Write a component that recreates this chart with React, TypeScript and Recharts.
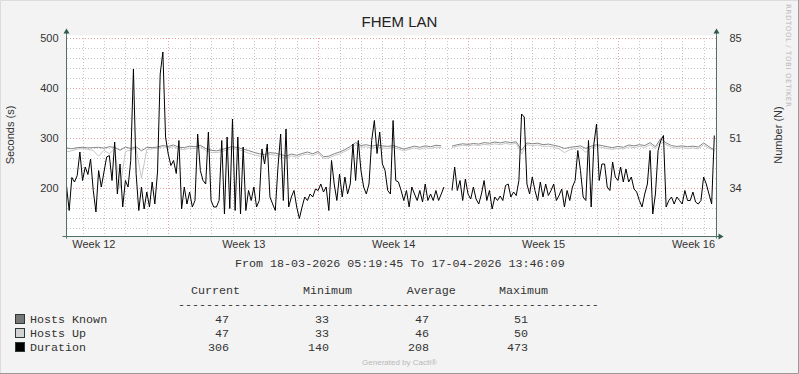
import { ComposedChart, Line, XAxis, YAxis, ReferenceLine, ReferenceArea, ReferenceDot } from "recharts";

// time axis: hours since 18-03-2026 05:19:45
const SPAN_HOURS = 728.44;
const DURATION_STEP = 3;
const HOSTS_STEP = 6;

// Duration (seconds), one value every 3 hours
const durationValues: (number | null)[] = [
  205, 156, 222, 213, 226, 273, 216, 243, 228, 259,
  196, 153, 236, 203, 233, 263, 266, 216, 293, 189,
  249, 163, 216, 203, 256, 439, 230, 156, 203, 159,
  193, 163, 213, 169, 233, 429, 473, 303, 269, 246,
  256, 230, 296, 159, 203, 169, 193, 163, 176, 309,
  236, 216, 209, 313, 176, 163, 163, 176, 296, 149,
  303, 160, 339, 156, 303, 149, 283, 156, 196, 176,
  203, 163, 176, 279, 249, 289, 183, 169, 156, 243,
  309, 176, 319, 163, 183, 196, 163, 140, 163, 183,
  176, 189, 183, 199, 196, 209, 193, 203, 156, 256,
  209, 176, 229, 183, 223, 189, 209, 289, 216, 296,
  236, 203, 189, 209, 296, 336, 270, 313, 249, 236,
  196, 189, 336, 216, 213, 196, 176, 196, 163, 203,
  189, 176, 196, 173, 209, 176, 189, 176, 196, 176,
  189, 203, null, null, 196, 243, 196, 216, 176, 219,
  189, 179, 203, 179, 169, 189, 216, 176, 196, 159,
  183, 176, 185, 176, 206, 209, 183, 193, 186, 216,
  349, 343, 209, 189, 223, 196, 176, 213, 183, 209,
  186, 196, 209, 176, 186, 199, 163, 196, 176, 203,
  216, 276, 236, 183, 176, 296, 163, 289, 329, 216,
  249, 249, 203, 196, 253, 223, 216, 243, 213, 239,
  213, 223, 199, 193, 176, 163, 189, 209, 276, 149,
  189, 276, 296, 306, 163, 176, 183, 169, 183, 176,
  169, 196, 176, 176, 193, 173, 169, 176, 223, 209,
  189, 169, 306,
];

// Hosts (number), one value every 6 hours
const hostsKnownValues: (number | null)[] = [
  47.8, 47.5, 47.9, 48.0, 47.8, 47.9, 48.0, 47.7, 48.2, 48.0,
  47.0, 48.1, 47.6, 48.2, 46.8, 48.0, 47.9, 48.1, 48.6, 48.3,
  48.8, 48.0, 47.9, 48.4, 48.2, 48.7, 47.6, 47.0, 46.8, 47.2,
  47.8, 48.2, 47.9, 47.4, 46.9, 46.3, 45.8, 45.5, 46.2, 46.0,
  45.6, 45.0, 45.7, 45.3, 45.9, 46.4, 45.8, 46.6, 44.8, 45.0,
  45.8, 46.4, 47.2, 48.3, 49.6, 48.6, 48.9, 48.4, 48.8, 48.5,
  48.3, 48.6, 48.0, 47.4, 47.9, 48.4, 48.0, 48.5, 48.2, 48.7,
  48.5, null, 48.4, 48.9, 49.2, 49.0, 49.3, 49.1, 49.6, 49.4,
  49.8, 49.5, 49.9, 49.6, 49.9, 47.0, 49.5, 49.2, 49.4, 48.9,
  49.1, 48.7, 48.3, 47.6, 48.0, 48.2, 48.5, 47.6, 48.4, 48.9,
  48.6, 48.2, 47.9, 48.3, 48.0, 48.8, 48.5, 48.9, 48.6, 49.6,
  48.2, 51.0, 49.5, 48.6, 48.3, 48.5, 48.2, 48.4, 48.1, 49.5,
  48.2, 47.0,
];

const hostsUpValues: (number | null)[] = [
  46.5, 46.8, 47.4, 47.6, 47.3, 46.9, 45.0, 47.0, 45.8, 47.5,
  34.0, 46.6, 47.1, 47.6, 37.5, 47.3, 47.5, 47.7, 48.2, 47.9,
  48.2, 47.4, 47.2, 47.8, 47.6, 48.2, 46.9, 46.3, 46.2, 46.5,
  47.1, 47.5, 47.3, 46.7, 46.0, 45.5, 45.0, 44.7, 45.6, 45.3,
  44.9, 44.3, 45.1, 44.6, 45.4, 45.7, 45.2, 46.0, 44.2, 44.4,
  45.2, 45.7, 46.6, 47.6, 48.9, 48.0, 48.2, 47.7, 48.1, 47.8,
  47.6, 48.0, 47.4, 46.8, 47.3, 47.8, 47.3, 47.9, 47.6, 48.1,
  47.9, null, 47.9, 48.4, 48.7, 48.5, 48.8, 48.6, 49.0, 48.8,
  49.2, 48.9, 49.3, 49.0, 49.4, 45.8, 48.9, 48.6, 48.8, 48.3,
  48.4, 48.0, 47.5, 46.2, 47.2, 47.6, 47.9, 46.3, 47.8, 48.3,
  48.0, 47.6, 47.3, 47.7, 47.4, 48.2, 47.9, 48.3, 48.0, 48.9,
  47.6, 50.0, 48.9, 48.0, 47.7, 47.9, 47.6, 47.8, 47.5, 48.9,
  47.6, 47.0,
];

const weekLabels = ["Week 12", "Week 13", "Week 14", "Week 15", "Week 16"];
const weekLabelHours = [30.67, 198.67, 366.67, 534.67, 702.67];
const weekStartHours = [114.67, 282.67, 450.67, 618.67];
const dayStartHours = Array.from({ length: 30 }, (_, m) => 18.67 + 24 * m);

const secondsDomain = [104, 506];
const secondsTicks = [200, 300, 400, 500];
const secondsMinor = [120, 140, 160, 180, 220, 240, 260, 280, 320, 340, 360, 380, 420, 440, 460, 480];
const numberDomain = [17.68, 86.02];
const numberTicks = [34, 51, 68, 85];

const legendNames = ["Hosts Known", "Hosts Up", "Duration"];
const legendColors = ["#777777", "#d2d2d2", "#000000"];
const currentValues = ["47", "47", "306"];
const minimumValues = ["33", "33", "140"];
const averageValues = ["47", "46", "208"];
const maximumValues = ["51", "50", "473"];

const durationData = durationValues.map((v, i) => ({ h: i * DURATION_STEP, v }));
const knownData = hostsKnownValues.map((v, i) => ({ h: i * HOSTS_STEP, v }));
const upData = hostsUpValues.map((v, i) => ({ h: i * HOSTS_STEP, v }));

const AXIS = "#50706a";
const ARROW = "#2f5a4e";
const MINOR = "#c4c4c4";
const MAJOR = "#eba3a3";
const SANS = "Liberation Sans, Arial, sans-serif";
const MONO = "Liberation Mono, monospace";

const tickStyle = { fill: "#333", fontSize: 11, fontFamily: SANS };

const ArrowUp = (p: any) => (
  <g>
    <path d={`M${p.cx},${p.cy} V${p.cy - 3}`} stroke={AXIS} />
    <path d={`M${p.cx - 3},${p.cy - 2} L${p.cx + 3},${p.cy - 2} L${p.cx},${p.cy - 7} Z`} fill={ARROW} />
  </g>
);

const CornerLeft = (p: any) => <path d={`M${p.cx - 4},${p.cy} H${p.cx} V${p.cy + 2}`} stroke={AXIS} fill="none" />;

const ArrowRight = (p: any) => (
  <g>
    <path d={`M${p.cx},${p.cy + 2} V${p.cy} H${p.cx + 3}`} stroke={AXIS} fill="none" />
    <path d={`M${p.cx + 2},${p.cy - 3} L${p.cx + 2},${p.cy + 3} L${p.cx + 7},${p.cy} Z`} fill={ARROW} />
  </g>
);

export default function App() {
  return (
    <div style={{ position: "absolute", left: 0, top: 0, width: 799, height: 374, background: "#f3f3f3" }}>
      <ComposedChart
        width={799}
        height={374}
        data={durationData}
        margin={{ top: 35.5, right: 16.5, bottom: 117.5, left: 0.5 }}
      >
        <XAxis
          xAxisId={0}
          type="number"
          dataKey="h"
          domain={[0, SPAN_HOURS]}
          allowDataOverflow
          ticks={weekLabelHours}
          interval={0}
          tickFormatter={(v) => weekLabels[weekLabelHours.indexOf(v)]}
          tickLine={false}
          tickSize={4}
          tickMargin={0}
          height={20}
          axisLine={{ stroke: AXIS }}
          tick={tickStyle}
        />
        <YAxis
          yAxisId="left"
          domain={secondsDomain}
          allowDataOverflow
          ticks={secondsTicks}
          interval={0}
          width={66}
          tickLine={false}
          axisLine={{ stroke: AXIS }}
          tick={tickStyle}
        />
        <YAxis
          yAxisId="right"
          orientation="right"
          domain={numberDomain}
          allowDataOverflow
          ticks={numberTicks}
          interval={0}
          width={66}
          tickLine={false}
          tickMargin={7}
          axisLine={{ stroke: AXIS }}
          tick={tickStyle}
        />
        <ReferenceArea
          yAxisId="left"
          x1={0}
          x2={SPAN_HOURS}
          y1={secondsDomain[0]}
          y2={secondsDomain[1]}
          fill="#ffffff"
          fillOpacity={1}
          stroke="none"
        />
        {secondsMinor.map((y) => (
          <ReferenceLine key={`hm${y}`} yAxisId="left" y={y} stroke={MINOR} strokeDasharray="1 2" shapeRendering="crispEdges" />
        ))}
        {dayStartHours.map((x) => (
          <ReferenceLine key={`vm${x}`} yAxisId="left" x={x} stroke={MINOR} strokeDasharray="1 2" shapeRendering="crispEdges" />
        ))}
        {secondsTicks.map((y) => (
          <ReferenceLine key={`hM${y}`} yAxisId="left" y={y} stroke={MAJOR} strokeDasharray="1 2" shapeRendering="crispEdges" />
        ))}
        {weekStartHours.map((x) => (
          <ReferenceLine key={`vM${x}`} yAxisId="left" x={x} stroke={MAJOR} strokeDasharray="1 2" shapeRendering="crispEdges" />
        ))}
        <Line
          yAxisId="right"
          data={knownData}
          dataKey="v"
          name="Hosts Known"
          stroke="#858585"
          strokeWidth={1}
          dot={false}
          isAnimationActive={false}
        />
        <Line
          yAxisId="right"
          data={upData}
          dataKey="v"
          name="Hosts Up"
          stroke="#c6c6c6"
          strokeWidth={1}
          dot={false}
          isAnimationActive={false}
        />
        <Line
          yAxisId="left"
          dataKey="v"
          name="Duration"
          stroke="#000000"
          strokeWidth={1}
          dot={false}
          isAnimationActive={false}
        />
        <ReferenceDot yAxisId="left" x={0} y={secondsDomain[1]} shape={ArrowUp} />
        <ReferenceDot yAxisId="left" x={SPAN_HOURS} y={secondsDomain[1]} shape={ArrowUp} />
        <ReferenceDot yAxisId="left" x={0} y={secondsDomain[0]} shape={CornerLeft} />
        <ReferenceDot yAxisId="left" x={SPAN_HOURS} y={secondsDomain[0]} shape={ArrowRight} />
      </ComposedChart>

      <svg
        width={799}
        height={374}
        style={{ position: "absolute", left: 0, top: 0, pointerEvents: "none" }}
      >
        <path d="M0.5,373 V0.5 H798" stroke="#dcdcdc" fill="none" />
        <path d="M0,373.5 H798.5 V0" stroke="#9a9a9a" fill="none" />
        <text x={399.5} y={27} textAnchor="middle" fontSize={15} fontFamily={SANS} fill="#222">
          FHEM LAN
        </text>
        <text x={14} y={135} transform="rotate(-90 14 135)" textAnchor="middle" fontSize={11} fontFamily={SANS} fill="#333">
          Seconds (s)
        </text>
        <text x={781.5} y={135} transform="rotate(-90 781.5 135)" textAnchor="middle" fontSize={11} fontFamily={SANS} fill="#333">
          Number (N)
        </text>
        <text
          x={786}
          y={4}
          transform="rotate(90 786 4)"
          fontSize={7}
          letterSpacing={0.6}
          fontFamily="DejaVu Sans, sans-serif"
          fill="#b8b8b8"
        >
          RRDTOOL / TOBI OETIKER
        </text>
        <g fontFamily={MONO} fontSize={11.7} fill="#333">
          <text x={235} y={266.5}>From 18-03-2026 05:19:45 To 17-04-2026 13:46:09</text>
          <text x={191} y={293.5}>Current</text>
          <text x={303} y={293.5}>Minimum</text>
          <text x={406.7} y={293.5}>Average</text>
          <text x={499} y={293.5}>Maximum</text>
          <text x={178} y={307.8}>{"-".repeat(60)}</text>
          {legendNames.map((name, i) => (
            <g key={name}>
              <rect x={15.5} y={314.5 + i * 14} width={9} height={9} fill={legendColors[i]} stroke="#2b3a36" />
              <text x={30} y={323 + i * 14}>{name}</text>
              <text x={229} y={323 + i * 14} textAnchor="end">{currentValues[i]}</text>
              <text x={329} y={323 + i * 14} textAnchor="end">{minimumValues[i]}</text>
              <text x={429} y={323 + i * 14} textAnchor="end">{averageValues[i]}</text>
              <text x={528} y={323 + i * 14} textAnchor="end">{maximumValues[i]}</text>
            </g>
          ))}
        </g>
        <text x={399.5} y={365} textAnchor="middle" fontSize={8} fontFamily={SANS} fill="#b8b8b8">
          Generated by Cacti®
        </text>
      </svg>
    </div>
  );
}
